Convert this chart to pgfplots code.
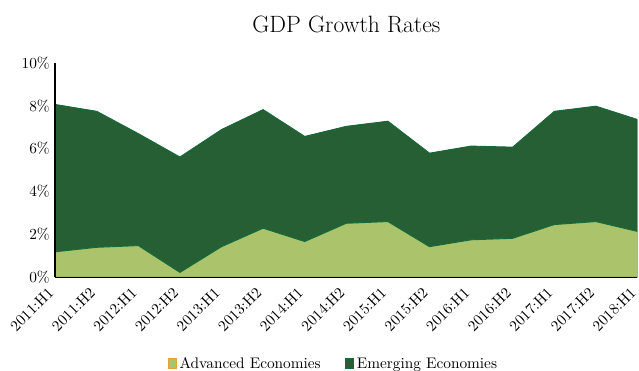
\documentclass[border=0pt]{standalone}
\usepackage{pgfplots}
\pgfplotsset{compat=1.18}
\definecolor{advfill}{HTML}{ABC46B}
\definecolor{advline}{HTML}{E3A33A}
\definecolor{emfill}{HTML}{265F33}
\definecolor{emline}{HTML}{17693A}
\begin{document}
\begin{tikzpicture}
\path[use as bounding box] (-36pt,-61pt) rectangle (381pt,181pt);
\begin{axis}[
  scale only axis,
  width=380pt, height=140pt,
  xmin=0, xmax=14, ymin=0, ymax=10,
  stack plots=y, area style,
  axis x line=bottom, axis y line=left,
  axis line style={-, black, line width=0.9pt},
  xtick={0,...,14},
  xticklabels={2011:H1,2011:H2,2012:H1,2012:H2,2013:H1,2013:H2,2014:H1,2014:H2,2015:H1,2015:H2,2016:H1,2016:H2,2017:H1,2017:H2,2018:H1},
  x tick label style={rotate=45, anchor=south east, inner sep=0pt},
  xticklabel shift=11pt,
  ytick={0,2,4,6,8,10},
  yticklabel={\pgfmathprintnumber{\tick}\%},
  major tick length=0pt,
  title={\fontsize{15.4}{18}\selectfont GDP Growth Rates},
  title style={yshift=10pt},
  legend style={at={(0.5,-0.405)}, anchor=center, xshift=-8pt, draw=none, legend columns=2,
    /tikz/every even column/.append style={column sep=14pt}},
  legend cell align=left,
  legend image code/.code={\draw[#1] (0pt,-3pt) rectangle (5pt,4pt);},
]
\addplot[fill=advfill, draw=emline, line width=0.6pt,
  legend image code/.code={\draw[fill=advfill, draw=advline, line width=0.6pt] (0pt,-3pt) rectangle (5pt,4pt);}] coordinates {
(0,1.19) (1,1.40) (2,1.48) (3,0.23) (4,1.43) (5,2.29) (6,1.67) (7,2.52)
(8,2.60) (9,1.43) (10,1.75) (11,1.82) (12,2.46) (13,2.60) (14,2.14)} \closedcycle;
\addlegendentry{Advanced Economies}
\addplot[fill=emfill, draw=emline, line width=0.6pt] coordinates {
(0,6.87) (1,6.34) (2,5.22) (3,5.38) (4,5.46) (5,5.53) (6,4.90) (7,4.52)
(8,4.68) (9,4.36) (10,4.37) (11,4.25) (12,5.28) (13,5.38) (14,5.22)} \closedcycle;
\addlegendentry{Emerging Economies}
\end{axis}
\end{tikzpicture}
\end{document}
